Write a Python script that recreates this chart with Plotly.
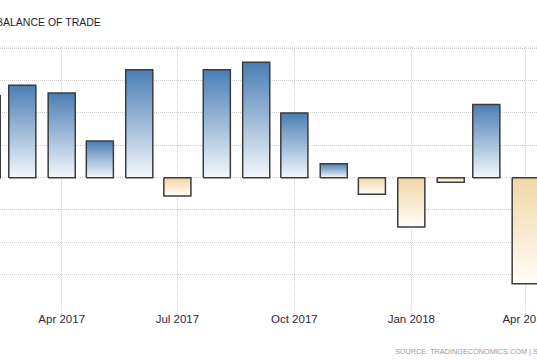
import pandas as pd
import plotly.graph_objects as go

# ---- data (grid step = 100 units) ----
months = ["2017-02-01", "2017-03-01", "2017-04-01", "2017-05-01", "2017-06-01",
          "2017-07-01", "2017-08-01", "2017-09-01", "2017-10-01", "2017-11-01",
          "2017-12-01", "2018-01-01", "2018-02-01", "2018-03-01", "2018-04-01"]
balance = [253, 286, 262, 113, 334, -57, 334, 357, 200, 43, -51, -153, -14, 226, -328]
tick_dates = ["2017-04-01", "2017-07-01", "2017-10-01", "2018-01-01", "2018-04-01"]
title_text = "BALANCE OF TRADE"
source_text = "SOURCE: TRADINGECONOMICS.COM | STATISTICS"

# ---- styles ----
BAR_DAYS = 21.3
POS_SCALE = [[0, "#f3f7fb"], [1, "#4a7eb5"]]
NEG_SCALE = [[0, "#fffdf8"], [1, "#f2d6a4"]]
OUTLINE = "#3c3c3c"
GRID = "#cfcfcf"
DOTS = "1px,1px"
FONT = "Liberation Sans, Arial, sans-serif"

fig = go.Figure()
half = pd.Timedelta(days=BAR_DAYS / 2)
for m, v in zip(months, balance):
    d = pd.Timestamp(m)
    xs = [d - half, d - half, d + half, d + half, d - half]
    ys = [0, v, v, 0, 0]
    fig.add_trace(go.Scatter(
        x=xs, y=ys, mode="lines", fill="toself",
        line=dict(color=OUTLINE, width=1.5),
        fillgradient=dict(type="vertical", colorscale=POS_SCALE if v >= 0 else NEG_SCALE),
        hoverinfo="skip", showlegend=False,
    ))

# short dotted tick extensions below the plot, one per tick date
tick_shapes = [dict(type="line", xref="x", yref="paper", x0=t, x1=t, y0=0, y1=-8 / 260,
                    line=dict(color=GRID, width=1, dash=DOTS)) for t in tick_dates]

fig.update_layout(
    width=537, height=360,
    margin=dict(l=0, r=0, t=47, b=53),
    paper_bgcolor="white", plot_bgcolor="white",
    showlegend=False,
    xaxis=dict(
        type="date",
        range=["2017-02-11 11:00", "2018-04-09 21:00"],
        tickvals=tick_dates, tickformat="%b %Y",
        showgrid=True, gridcolor=GRID, griddash=DOTS, gridwidth=1,
        ticks="", ticklen=0, ticklabelstandoff=3, ticklabeloverflow="allow",
        automargin=False,
        tickfont=dict(family=FONT, size=11.5, color="#2b2b45"),
        showline=False, zeroline=False,
    ),
    yaxis=dict(
        range=[-400, 404], tick0=0, dtick=100,
        showticklabels=False, automargin=False,
        showgrid=True, gridcolor=GRID, griddash=DOTS, gridwidth=1,
        zeroline=False, showline=False,
    ),
    shapes=[dict(type="line", xref="paper", yref="paper", x0=0, x1=1, y0=1, y1=1,
                 line=dict(color=GRID, width=1, dash=DOTS))] + tick_shapes,
    annotations=[
        dict(text=title_text, xref="paper", yref="paper",
             x=-6 / 537, y=1 + (47 - 22.3) / 260, xanchor="left", yanchor="middle",
             showarrow=False,
             font=dict(family=FONT, size=10.5, color="#1e1e38")),
        dict(text=source_text, xref="paper", yref="paper",
             x=393 / 537, y=-(351.7 - 307) / 260, xanchor="left", yanchor="middle",
             showarrow=False,
             font=dict(family=FONT, size=7.3, color="#9a9a9a")),
    ],
)

fig.write_html(
    "out.html", config={"displayModeBar": False, "staticPlot": True},
    post_script=("document.documentElement.style.overflow='hidden';"
                 "document.body.style.overflow='hidden';"
                 "document.body.style.margin='0';document.body.style.padding='0';"
                 "var s=document.querySelectorAll('.main-svg');"
                 "s.forEach(function(e){e.style.overflow='hidden';});"),
)
